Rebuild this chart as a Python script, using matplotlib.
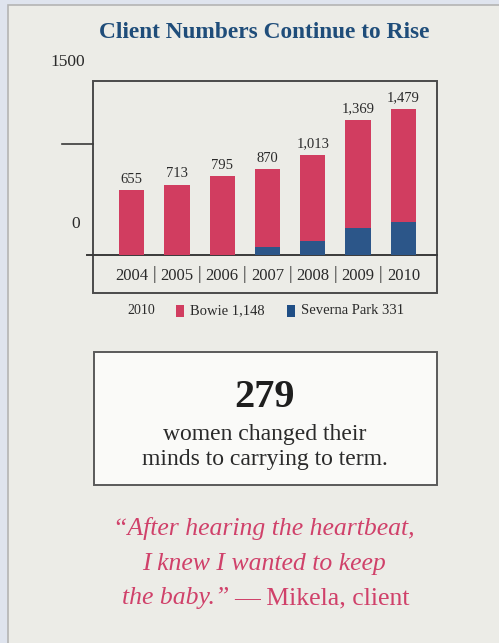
import matplotlib
matplotlib.use("Agg")
import matplotlib.pyplot as plt
from matplotlib.patches import Rectangle

# ---- data ----
years = ["2004", "2005", "2006", "2007", "2008", "2009", "2010"]
totals = [655, 713, 795, 870, 1013, 1369, 1479]
severna = [0, 0, 0, 80, 145, 275, 331]
bowie = [t - s for t, s in zip(totals, severna)]
total_labels = ["655", "713", "795", "870", "1,013", "1,369", "1,479"]
legend_year = "2010"
legend_items = ["Bowie 1,148", "Severna Park 331"]
ytick_labels = ["1500", "0"]

RED = "#d13d60"
BLUE = "#2c5689"
BLUE_DARK = "#1f4e85"
TITLE_BLUE = "#1f4d7a"
PANEL = "#ecece7"
SERIF = ["Liberation Serif", "DejaVu Serif"]

W, H = 499, 643
fig = plt.figure(figsize=(W / 100, H / 100), dpi=100)
fig.patch.set_facecolor("#dfe4ee")

bg = fig.add_axes([0, 0, 1, 1], zorder=0)
bg.set_xlim(0, W)
bg.set_ylim(H, 0)
bg.axis("off")

# panel
bg.add_patch(Rectangle((8.5, 4.5), W, H, facecolor=PANEL, edgecolor="#b4b4b4", lw=1.2))

# title
bg.text(264, 33, "Client Numbers Continue to Rise", ha="center", va="center",
        fontsize=16.8, fontweight="bold", color=TITLE_BLUE, family=SERIF)

# chart frame
bg.add_patch(Rectangle((93, 81), 344, 212, facecolor="none", edgecolor="#4a4a4a", lw=1.4))
bg.plot([87, 437], [255, 255], color="#3a3a3a", lw=1.4)
bg.plot([62, 93], [144, 144], color="#3a3a3a", lw=1.2)
bg.text(68, 62, ytick_labels[0], ha="center", va="center", fontsize=12.5, color="#2a2a2a", family=SERIF)
bg.text(76, 224, ytick_labels[1], ha="center", va="center", fontsize=12.5, color="#2a2a2a", family=SERIF)

# chart axes
x0, x1, yb, yt = 93, 437, 255, 81
ax = fig.add_axes([x0 / W, (H - yb) / H, (x1 - x0) / W, (yb - yt) / H], zorder=1)
ax.patch.set_alpha(0)
for s in ax.spines.values():
    s.set_visible(False)
xs = list(range(len(years)))
ax.bar(xs, severna, width=0.56, color=BLUE, linewidth=0)
ax.bar(xs, bowie, bottom=severna, width=0.56, color=RED, linewidth=0)
for x, t, lab in zip(xs, totals, total_labels):
    ax.annotate(lab, (x, t), xytext=(0, 3), textcoords="offset points", ha="center", va="bottom",
                fontsize=10.5, color="#2a2a2a", family=SERIF)
ax.set_xlim(-0.856, 6.744)
ax.set_ylim(0, 1760)
ax.set_yticks([])
ax.set_xticks(xs)
ax.set_xticklabels(years, fontsize=12, color="#2a2a2a", family=SERIF)
ax.tick_params(axis="x", length=0, pad=9)
for i in range(len(years) - 1):
    ax.annotate("|", (i + 0.5, 0), xytext=(0, -14), textcoords="offset points", ha="center", va="center",
                fontsize=13, color="#2a2a2a", family=SERIF, annotation_clip=False)

# legend row
bg.text(141, 311, legend_year, ha="center", va="center", fontsize=10, color="#2a2a2a", family=SERIF)
bg.add_patch(Rectangle((176, 305), 8.5, 12, facecolor=RED, edgecolor="none"))
bg.text(190, 311, legend_items[0], ha="left", va="center", fontsize=10.5, color="#2a2a2a", family=SERIF)
bg.add_patch(Rectangle((287, 305), 8.5, 12, facecolor=BLUE_DARK, edgecolor="none"))
bg.text(301, 311, legend_items[1], ha="left", va="center", fontsize=10.5, color="#2a2a2a", family=SERIF)

# stat box
bg.add_patch(Rectangle((94, 352), 343, 133, facecolor="#fafaf8", edgecolor="#5a5a5a", lw=1.4))
bg.text(265, 407, "279", ha="center", va="baseline", fontsize=29, fontweight="bold",
        color="#1e1e1e", family=SERIF)
bg.text(265, 440, "women changed their", ha="center", va="baseline", fontsize=17,
        color="#2a2a2a", family=SERIF)
bg.text(265, 465, "minds to carrying to term.", ha="center", va="baseline", fontsize=17,
        color="#2a2a2a", family=SERIF)

# quote
QC = "#d0416a"
QS = 18.5
bg.text(264, 535, "\u201cAfter hearing the heartbeat,", ha="center", va="baseline", fontsize=QS,
        style="italic", color=QC, family=SERIF)
bg.text(264, 570, "I knew I wanted to keep", ha="center", va="baseline", fontsize=QS,
        style="italic", color=QC, family=SERIF)
bg.text(229, 604, "the baby.\u201d", ha="right", va="baseline", fontsize=QS,
        style="italic", color=QC, family=SERIF)
bg.text(234, 604, "\u2014 Mikela, client", ha="left", va="baseline", fontsize=QS,
        color=QC, family=SERIF)

fig.savefig("out.png", dpi=100, facecolor=fig.get_facecolor())
